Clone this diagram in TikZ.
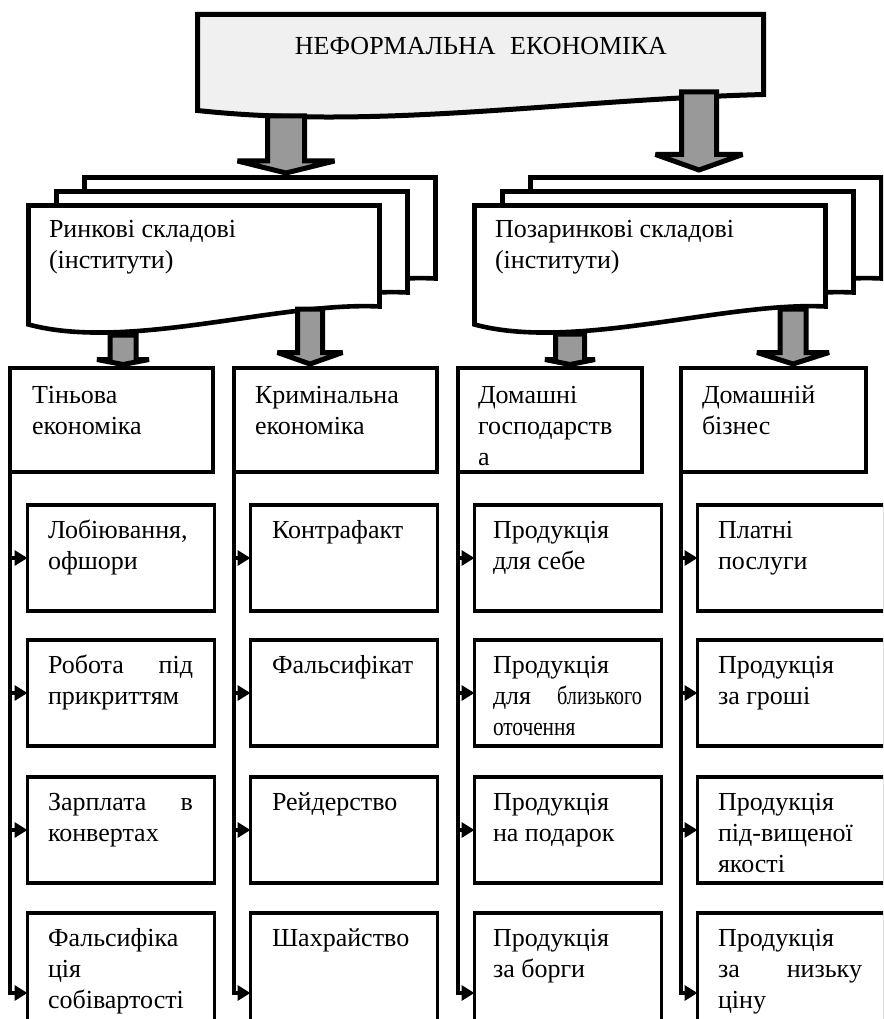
\documentclass[tikz,border=0pt]{standalone}
\usepackage{fontspec}
\setmainfont{Liberation Serif}
\usepackage{graphicx}
\usetikzlibrary{arrows.meta,calc}
\definecolor{titlegray}{RGB}{240,240,240}
\definecolor{arrowgray}{RGB}{153,153,153}
\tikzset{
  l1/.style={draw=black, line width=5pt, fill=titlegray},
  l2/.style={draw=black, line width=4.6pt, fill=white},
  l3box/.style={draw=black, line width=4pt, fill=white, rectangle, inner sep=0pt, outer sep=0pt, anchor=north west, minimum height=104pt},
  l4box/.style={draw=black, line width=3.3pt, fill=white, rectangle, inner sep=0pt, outer sep=0pt, anchor=north west, minimum width=187pt},
  txt/.style={inner sep=0pt, outer sep=0pt, anchor=north west, align=left, font=\fontsize{26}{31}\selectfont},
  bus/.style={draw=black, line width=4pt, -{Triangle[length=13pt,width=15pt]}},
  barrow/.style={draw=black, fill=arrowgray, line width=5pt, miter limit=3},
}
\newcommand\mystackdoc[2]{%
  \foreach \dx/\dy in {56/-28, 28/-14, 0/0} {
    \draw[l2] ({#1+\dx},{#2+\dy}) -- ({#1+\dx+351},{#2+\dy}) -- ({#1+\dx+351},{#2+\dy+101})
      .. controls ({#1+\dx+250},{#2+\dy+96}) and ({#1+\dx+100},{#2+\dy+146}) .. ({#1+\dx},{#2+\dy+119}) -- cycle;
  }%
}
\newcommand\blockarr[6]{%
  \draw[barrow] ({#1-#5},#2) -- ({#1+#5},#2) -- ({#1+#5},#3) -- ({#1+#6},#3) -- (#1,#4)
    -- ({#1-#6},#3) -- ({#1-#5},#3) -- cycle;%
}
\begin{document}
\begin{tikzpicture}[x=1pt,y=-1pt]
\useasboundingbox (0,0) rectangle (883,1019);
\clip (0,0) rectangle (883,1019);

% level 2 stacks
\mystackdoc{28.5}{205.5}
\mystackdoc{474.5}{205.5}
\node[txt] (market) at (49,215.3) {\strut Ринкові складові\\(інститути)};
\node[txt] (nonmarket) at (495,215.3) {\strut Позаринкові складові\\(інститути)};

% title
\draw[l1] (197.5,14.5) -- (763.5,14.5) -- (763.5,94.5)
  .. controls (560,100) and (380,130) .. (197.5,110.5) -- cycle;
\node[font=\fontsize{26}{31}\selectfont, anchor=base, inner sep=0pt] (title) at (481,55) {НЕФОРМАЛЬНА\hspace{8pt} ЕКОНОМІКА};

% block arrows
\blockarr{286}{116}{161}{173}{18.5}{48.5}
\blockarr{699}{92}{154.5}{170}{17.5}{43.5}
\blockarr{123}{335}{359.5}{364.5}{13}{26}
\blockarr{310}{309}{352.5}{364}{12.5}{32.5}
\blockarr{570}{334}{359.5}{364.5}{14.5}{25}
\blockarr{793}{309}{352.5}{364}{13}{36}

% level 3
\node[l3box, minimum width=203pt] (a0) at (10,368) {};
\node[l3box, minimum width=203pt] (b0) at (234,368) {};
\node[l3box, minimum width=184pt] (c0) at (458,368) {};
\node[l3box, minimum width=185pt] (d0) at (681,368) {};
\node[txt] (a0t) at (32,381.3) {\strut Тіньова\\економіка};
\node[txt] (b0t) at (255,381.3) {\strut Кримінальна\\економіка};
\node[txt] (c0t) at (478,381.3) {\strut Домашні\\господарств\\а};
\node[txt] (d0t) at (702,381.3) {\strut Домашній\\бізнес};

% level 4 boxes
\foreach \c/\x in {a/27.5, b/250.5, c/474.5, d/697.5} {
  \node[l4box, minimum height=106pt] (\c1) at (\x,505) {};
  \node[l4box, minimum height=106pt] (\c2) at (\x,640) {};
  \node[l4box, minimum height=106pt] (\c3) at (\x,777) {};
  \node[l4box, minimum height=160pt] (\c4) at (\x,913) {};
}

% connectors
\foreach \c in {a,b,c,d} {
  \foreach \r in {1,2,3,4} {
    \draw[bus] (\c0.south west) |- (\c\r.west);
  }
}

% level 4 texts
\node[txt] (a1t) at (48,516.3) {\strut Лобіювання,\\офшори};
\node[txt] (a2t) at (48,651.3) {\strut\hbox to 145pt{Робота\hfill під}\\прикриттям};
\node[txt] (a3t) at (48,788.3) {\strut\hbox to 145pt{Зарплата\hfill в}\\конвертах};
\node[txt] (a4t) at (48,924.3) {\strut Фальсифіка\\ція\\собівартості};

\node[txt] (b1t) at (272,516.3) {\strut Контрафакт};
\node[txt] (b2t) at (272,651.3) {\strut Фальсифікат};
\node[txt] (b3t) at (272,788.3) {\strut Рейдерство};
\node[txt] (b4t) at (272,924.3) {\strut Шахрайство};

\node[txt] (c1t) at (493,516.3) {\strut Продукція\\для себе};
\node[txt] (c2t) at (493,651.3) {\strut Продукція\\\hbox to 149pt{для\hfill\scalebox{0.78}[1]{близького}}\\\scalebox{0.82}[1]{оточення}};
\node[txt] (c3t) at (493,788.3) {\strut Продукція\\на подарок};
\node[txt] (c4t) at (493,924.3) {\strut Продукція\\за борги};

\node[txt] (d1t) at (718,516.3) {\strut Платні\\послуги};
\node[txt] (d2t) at (718,651.3) {\strut Продукція\\за гроші};
\node[txt] (d3t) at (718,788.3) {\strut Продукція\\під-вищеної\\якості};
\node[txt] (d4t) at (718,924.3) {\strut Продукція\\\hbox to 144pt{за\hfill низьку}\\ціну};
\end{tikzpicture}
\end{document}
